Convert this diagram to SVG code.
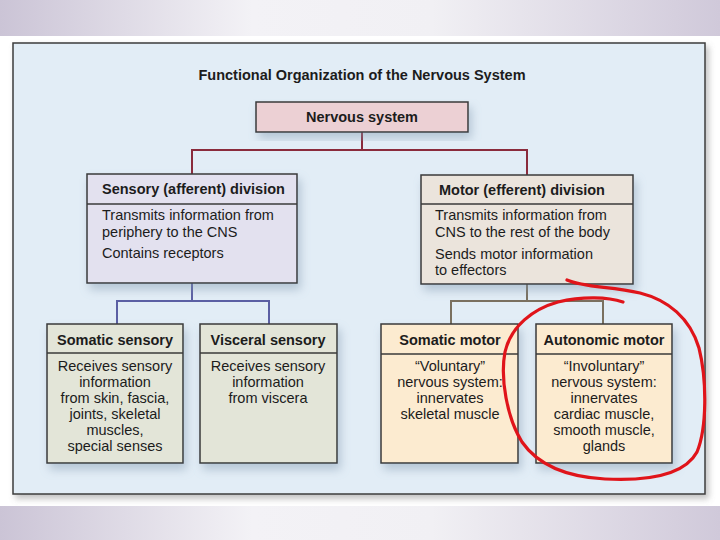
<svg xmlns="http://www.w3.org/2000/svg" width="720" height="540" viewBox="0 0 720 540">
<style>
text{font-family:"Liberation Sans",Arial,sans-serif;font-size:14.5px;fill:#1c1c1c}
.h{font-weight:bold}
.c{text-anchor:middle}
.box{stroke:#3a3a3a;stroke-width:1.5}
.div{stroke:#3a3a3a;stroke-width:1.3}
.conn{fill:none;stroke-width:2}
</style>
<defs>
<linearGradient id="band" x1="0" x2="1" y1="0" y2="0">
<stop offset="0" stop-color="#cbc4d6"/>
<stop offset="0.35" stop-color="#f3f2f6"/>
<stop offset="0.6" stop-color="#f1f0f4"/>
<stop offset="1" stop-color="#d0c9da"/>
</linearGradient>
<filter id="sh" x="-10%" y="-10%" width="130%" height="140%">
<feDropShadow dx="3" dy="6" stdDeviation="5" flood-color="#7f95ad" flood-opacity="0.45"/>
</filter>
<filter id="psh" x="-5%" y="-5%" width="110%" height="112%">
<feDropShadow dx="3" dy="4" stdDeviation="3" flood-color="#777" flood-opacity="0.45"/>
</filter>
</defs>
<rect x="0" y="0" width="720" height="540" fill="#ffffff"/>
<rect x="0" y="0" width="720" height="36" fill="url(#band)"/>
<rect x="0" y="506" width="720" height="34" fill="url(#band)"/>
<rect x="13" y="43" width="692" height="451" fill="#e2edf6" stroke="#3c3c3c" stroke-width="1.5" filter="url(#psh)"/>
<text id="title" class="h c" x="362" y="80">Functional Organization of the Nervous System</text>

<g id="connectors">
<path class="conn" stroke="#8a2b3c" d="M362,132 V150 M192,150 H527 M192,149 V174 M527,149 V175"/>
<path class="conn" stroke="#5b5fa3" d="M192,283 V301 M117,301 H269 M117,300 V324 M269,300 V324"/>
<path class="conn" stroke="#7a705f" d="M527,284 V301 M451,301 H603 M451,300 V324 M603,300 V324"/>
</g>

<g id="nervous-system">
<rect class="box" x="256" y="102" width="212" height="30" fill="#ecd0d4" filter="url(#sh)"/>
<text class="h c" x="362" y="122">Nervous system</text>
</g>

<g id="sensory-division">
<rect class="box" x="87" y="174" width="210" height="109" fill="#e3e1ef" filter="url(#sh)"/>
<line class="div" x1="87" y1="204" x2="297" y2="204"/>
<text class="h" x="102" y="194">Sensory (afferent) division</text>
<text x="102" y="220">Transmits information from</text>
<text x="102" y="237">periphery to the CNS</text>
<text x="102" y="258">Contains receptors</text>
</g>

<g id="motor-division">
<rect class="box" x="421" y="175" width="212" height="109" fill="#ebe4dc" filter="url(#sh)"/>
<line class="div" x1="421" y1="204" x2="633" y2="204"/>
<text class="h" x="439" y="195">Motor (efferent) division</text>
<text x="435" y="220">Transmits information from</text>
<text x="435" y="237">CNS to the rest of the body</text>
<text x="435" y="259">Sends motor information</text>
<text x="435" y="275">to effectors</text>
</g>

<g id="somatic-sensory">
<rect class="box" x="47" y="324" width="136" height="139" fill="#e3e5d8" filter="url(#sh)"/>
<line class="div" x1="47" y1="353" x2="183" y2="353"/>
<text class="h c" x="115" y="345">Somatic sensory</text>
<text class="c" x="115" y="371">Receives sensory</text>
<text class="c" x="115" y="387">information</text>
<text class="c" x="115" y="403">from skin, fascia,</text>
<text class="c" x="115" y="419">joints, skeletal</text>
<text class="c" x="115" y="435">muscles,</text>
<text class="c" x="115" y="451">special senses</text>
</g>

<g id="visceral-sensory">
<rect class="box" x="200" y="324" width="137" height="139" fill="#e3e5d8" filter="url(#sh)"/>
<line class="div" x1="200" y1="353" x2="337" y2="353"/>
<text class="h c" x="268" y="345">Visceral sensory</text>
<text class="c" x="268" y="371">Receives sensory</text>
<text class="c" x="268" y="387">information</text>
<text class="c" x="268" y="403">from viscera</text>
</g>

<g id="somatic-motor">
<rect class="box" x="381" y="324" width="137" height="139" fill="#fcebd0" filter="url(#sh)"/>
<line class="div" x1="381" y1="354" x2="518" y2="354"/>
<text class="h c" x="450" y="345">Somatic motor</text>
<text class="c" x="450" y="371">“Voluntary”</text>
<text class="c" x="450" y="387">nervous system:</text>
<text class="c" x="450" y="403">innervates</text>
<text class="c" x="450" y="419">skeletal muscle</text>
</g>

<g id="autonomic-motor">
<rect class="box" x="536" y="324" width="136" height="139" fill="#fcebd0" filter="url(#sh)"/>
<line class="div" x1="536" y1="354" x2="672" y2="354"/>
<text class="h c" x="604" y="345">Autonomic motor</text>
<text class="c" x="604" y="371">“Involuntary”</text>
<text class="c" x="604" y="387">nervous system:</text>
<text class="c" x="604" y="403">innervates</text>
<text class="c" x="604" y="419">cardiac muscle,</text>
<text class="c" x="604" y="435">smooth muscle,</text>
<text class="c" x="604" y="451">glands</text>
</g>

<path id="red-circle" fill="none" stroke="#e0141a" stroke-width="3.2" stroke-linecap="round" stroke-linejoin="round" d="M567,280 C585,288 612,286 640,293 C668,300 690,318 699,348 C707,380 707,428 697,452 C684,476 645,481 605,479 C568,477 538,465 522,442 C507,418 500,378 505,352 C511,326 533,309 558,302 C583,296 608,297 623,302"/>
</svg>
